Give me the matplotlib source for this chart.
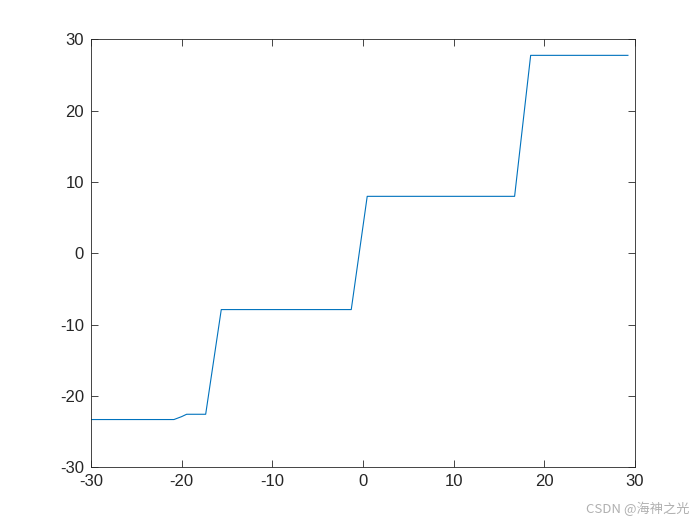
import matplotlib
matplotlib.use("Agg")
import matplotlib.pyplot as plt

x_vals = [-30.0, -20.85, -20.0, -19.45, -17.35, -15.63, -1.29, 0.47, 16.73, 18.5, 29.23]
y_vals = [-23.31, -23.31, -22.9, -22.57, -22.57, -7.89, -7.89, 7.99, 7.99, 27.76, 27.76]
ticks = [-30, -20, -10, 0, 10, 20, 30]

plt.rcParams['font.family'] = ['Liberation Sans', 'Noto Sans CJK SC', 'DejaVu Sans']
plt.rcParams['axes.unicode_minus'] = False

fig = plt.figure(figsize=(7, 5.25), dpi=100)
ax = fig.add_axes([0.13, 0.11, 0.777, 0.815])
ax.plot(x_vals, y_vals, color='#0072BD', linewidth=0.8)
ax.set_xlim(-30, 30)
ax.set_ylim(-30, 30)
ax.set_xticks(ticks)
ax.set_yticks(ticks)
ax.tick_params(direction='in', top=True, right=True, length=5, width=0.6,
               labelsize=12, colors='#262626', pad=5)
for s in ax.spines.values():
    s.set_linewidth(0.6)
    s.set_color('#262626')

fig.text(0.985, 0.018, 'CSDN @海神之光', ha='right', va='bottom', fontsize=9.5,
         color='#b0b0b0', family=['Noto Sans CJK SC', 'DejaVu Sans'])

fig.savefig('out.png', dpi=100)
